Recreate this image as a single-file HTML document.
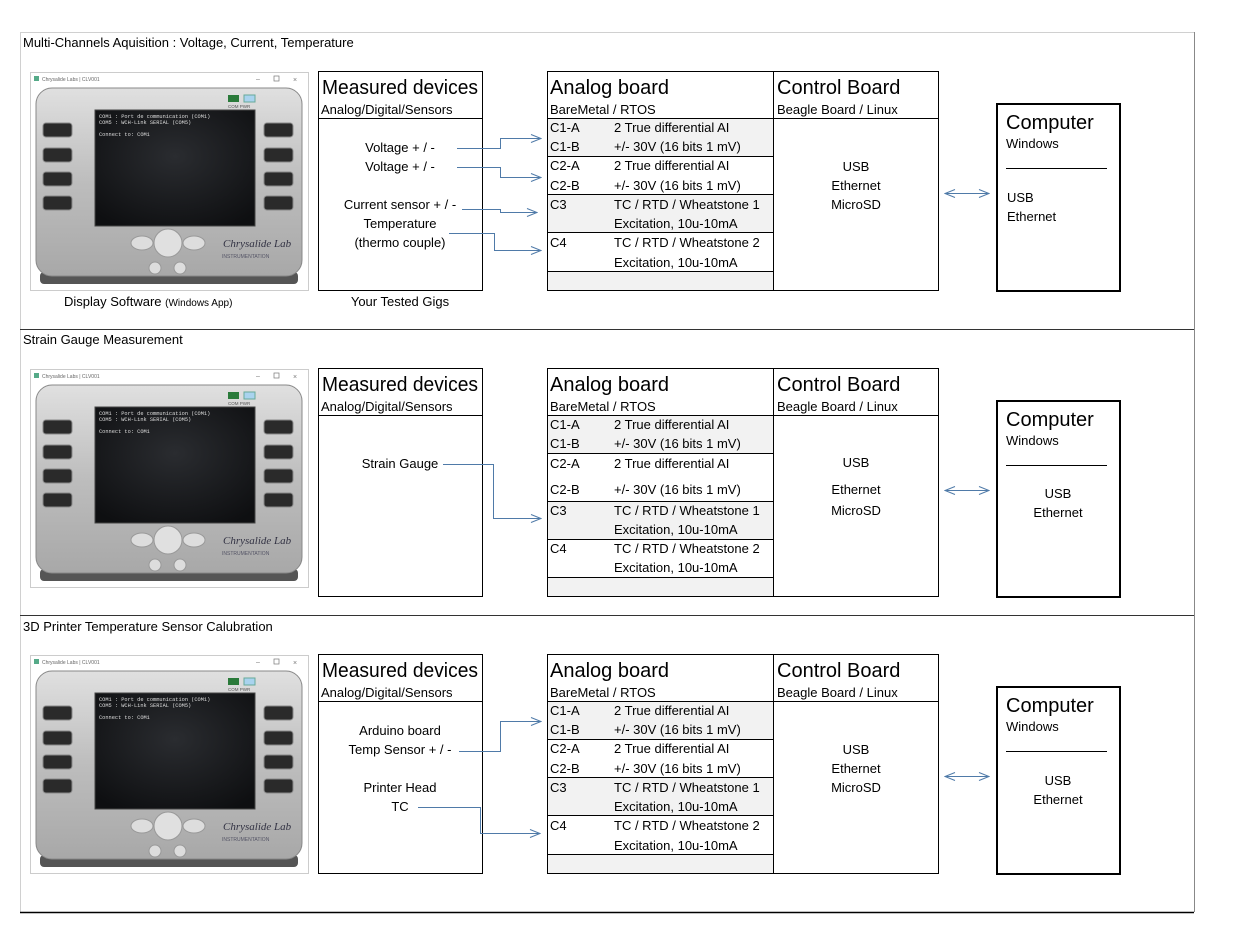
<!DOCTYPE html>
<html><head><meta charset="utf-8"><style>
html,body{margin:0;padding:0;background:#fff;}
svg{display:block;font-family:"Liberation Sans",sans-serif;}
</style></head><body>
<svg width="1248" height="944" viewBox="0 0 1248 944" xmlns="http://www.w3.org/2000/svg">
<defs>
<marker id="ah" markerWidth="12" markerHeight="10" refX="11" refY="5" orient="auto" markerUnits="userSpaceOnUse">
<path d="M1,1 L11,5 L1,9" fill="none" stroke="#4f7aa8" stroke-width="1"/></marker>
<marker id="ahs" markerWidth="12" markerHeight="10" refX="1" refY="5" orient="auto" markerUnits="userSpaceOnUse">
<path d="M11,1 L1,5 L11,9" fill="none" stroke="#4f7aa8" stroke-width="1"/></marker>
<linearGradient id="metal" x1="0" y1="0" x2="0" y2="1">
<stop offset="0" stop-color="#e0e0e0"/><stop offset="0.5" stop-color="#bdbdbd"/><stop offset="1" stop-color="#a8a8a8"/></linearGradient>
<radialGradient id="scr" cx="0.5" cy="0.4" r="0.7"><stop offset="0" stop-color="#2a2c30"/><stop offset="1" stop-color="#0e0f11"/></radialGradient>
<g id="dev">
<rect x="30.5" y="72.5" width="278" height="218" fill="#fff" stroke="#ccc"/>
<rect x="34" y="76" width="5" height="5" fill="#5a8"/>
<text x="42" y="81" font-size="5" fill="#666">Chrysalide Labs | CLV001</text>
<text x="256" y="81" font-size="7" fill="#777">–</text>
<rect x="274" y="76" width="5" height="5" fill="none" stroke="#777" stroke-width="0.7"/>
<text x="293" y="82" font-size="7" fill="#777">×</text>
<rect x="40" y="272" width="258" height="12" rx="4" fill="#555"/>
<rect x="36" y="88" width="266" height="188" rx="16" fill="url(#metal)" stroke="#888"/>
<rect x="95" y="110" width="160" height="116" fill="url(#scr)" stroke="#444"/>
<text font-family="Liberation Mono,monospace" font-size="5.3" fill="#ddd"><tspan x="99" y="118">COM1 : Port de communication (COM1)</tspan><tspan x="99" y="124">COM5 : WCH-Link SERIAL (COM5)</tspan><tspan x="99" y="136">Connect to: COM1</tspan></text>
<rect x="228" y="95" width="11" height="7" fill="#2a7a3a"/><rect x="244" y="95" width="11" height="7" fill="#a9d3ee" stroke="#6a9"/>
<text x="228" y="108" font-size="4.5" fill="#555">COM  PWR</text>
<g fill="#2a2a2a" stroke="#888">
<rect x="43" y="123" width="29" height="14" rx="3"/><rect x="43" y="148" width="29" height="14" rx="3"/>
<rect x="43" y="172" width="29" height="14" rx="3"/><rect x="43" y="196" width="29" height="14" rx="3"/>
<rect x="264" y="123" width="29" height="14" rx="3"/><rect x="264" y="148" width="29" height="14" rx="3"/>
<rect x="264" y="172" width="29" height="14" rx="3"/><rect x="264" y="196" width="29" height="14" rx="3"/>
</g>
<ellipse cx="142" cy="243" rx="11" ry="7" fill="#ddd" stroke="#999"/>
<ellipse cx="194" cy="243" rx="11" ry="7" fill="#ddd" stroke="#999"/>
<circle cx="168" cy="243" r="14" fill="#e0e0e0" stroke="#999"/>
<circle cx="155" cy="268" r="6" fill="#ddd" stroke="#999"/><circle cx="180" cy="268" r="6" fill="#ddd" stroke="#999"/>
<text x="223" y="247" font-family="Liberation Serif,serif" font-style="italic" font-size="11" fill="#334">Chrysalide Lab</text>
<text x="222" y="258" font-size="5" fill="#556">INSTRUMENTATION</text>
</g>
</defs>

<line x1="20.5" y1="32" x2="20.5" y2="912" stroke="#d0d0d0"/>
<line x1="20" y1="32.5" x2="1194" y2="32.5" stroke="#d0d0d0"/>
<line x1="1194.5" y1="32" x2="1194.5" y2="912" stroke="#888"/>
<line x1="20" y1="329.5" x2="1194" y2="329.5" stroke="#333"/>
<line x1="20" y1="615.5" x2="1194" y2="615.5" stroke="#333"/>
<line x1="20" y1="912.5" x2="1194" y2="912.5" stroke="#000" stroke-width="1.5"/>

<g font-size="13" fill="#000">
<text x="23" y="47">Multi-Channels Aquisition : Voltage, Current, Temperature</text>
<text x="23" y="344">Strain Gauge Measurement</text>
<text x="23" y="631">3D Printer Temperature Sensor Calubration</text>
</g>

<!-- Panel 1 -->
<g>
<use href="#dev"/>
<text x="64" y="306" font-size="13">Display Software <tspan font-size="10">(Windows App)</tspan></text>
<text x="400" y="306" font-size="13" text-anchor="middle">Your Tested Gigs</text>
<rect x="318.5" y="71.5" width="164" height="219" fill="none" stroke="#000"/>
<line x1="318" y1="118.5" x2="483" y2="118.5" stroke="#000"/>
<text x="322" y="94" font-size="20" textLength="156" lengthAdjust="spacingAndGlyphs">Measured devices</text>
<text x="321" y="114" font-size="13">Analog/Digital/Sensors</text>
<g font-size="13" text-anchor="middle">
<text x="400" y="152">Voltage + / -</text><text x="400" y="171">Voltage + / -</text>
<text x="400" y="209">Current sensor + / -</text><text x="400" y="228">Temperature</text><text x="400" y="247">(thermo couple)</text>
</g>
<rect x="547" y="118" width="226" height="38" fill="#f2f2f2"/>
<rect x="547" y="194" width="226" height="38" fill="#f2f2f2"/>
<rect x="547" y="271" width="226" height="19" fill="#f2f2f2"/>
<rect x="547.5" y="71.5" width="391" height="219" fill="none" stroke="#000"/>
<line x1="773.5" y1="71" x2="773.5" y2="291" stroke="#000"/>
<line x1="547" y1="118.5" x2="939" y2="118.5" stroke="#000"/>
<g stroke="#000"><line x1="547" y1="156.5" x2="773" y2="156.5"/><line x1="547" y1="194.5" x2="773" y2="194.5"/><line x1="547" y1="232.5" x2="773" y2="232.5"/><line x1="547" y1="271.5" x2="773" y2="271.5"/></g>
<text x="550" y="94" font-size="20">Analog board</text><text x="550" y="114" font-size="13">BareMetal / RTOS</text>
<text x="777" y="94" font-size="20">Control Board</text><text x="777" y="114" font-size="13">Beagle Board / Linux</text>
<g font-size="13">
<text x="550" y="132">C1-A</text><text x="614" y="132">2 True differential AI</text>
<text x="550" y="151">C1-B</text><text x="614" y="151">+/- 30V (16 bits 1 mV)</text>
<text x="550" y="170">C2-A</text><text x="614" y="170">2 True differential AI</text>
<text x="550" y="190">C2-B</text><text x="614" y="190">+/- 30V (16 bits 1 mV)</text>
<text x="550" y="209">C3</text><text x="614" y="209">TC / RTD / Wheatstone 1</text>
<text x="614" y="228">Excitation, 10u-10mA</text>
<text x="550" y="247">C4</text><text x="614" y="247">TC / RTD / Wheatstone 2</text>
<text x="614" y="267">Excitation, 10u-10mA</text>
<g text-anchor="middle"><text x="856" y="171">USB</text><text x="856" y="190">Ethernet</text><text x="856" y="209">MicroSD</text></g>
</g>
<rect x="997" y="104" width="123" height="187" fill="none" stroke="#000" stroke-width="2"/>
<line x1="1006" y1="168.5" x2="1107" y2="168.5" stroke="#000"/>
<text x="1006" y="129" font-size="20">Computer</text><text x="1006" y="148" font-size="13">Windows</text>
<text x="1007" y="202" font-size="13">USB</text><text x="1007" y="221" font-size="13">Ethernet</text>
<line x1="945" y1="193.5" x2="989" y2="193.5" stroke="#4f7aa8" marker-start="url(#ahs)" marker-end="url(#ah)"/>
<g fill="none" stroke="#4f7aa8">
<polyline points="457,148.5 500.5,148.5 500.5,138.5 541,138.5" marker-end="url(#ah)"/>
<polyline points="457,167.5 500.5,167.5 500.5,177.5 541,177.5" marker-end="url(#ah)"/>
<polyline points="462,209.5 500.5,209.5 500.5,212.5 537,212.5" marker-end="url(#ah)"/>
<polyline points="449,233.5 494.5,233.5 494.5,250.5 541,250.5" marker-end="url(#ah)"/>
</g>
</g>

<!-- Panel 2 -->
<g transform="translate(0,297)">
<use href="#dev"/>
<rect x="318.5" y="71.5" width="164" height="228" fill="none" stroke="#000"/>
<line x1="318" y1="118.5" x2="483" y2="118.5" stroke="#000"/>
<text x="322" y="94" font-size="20" textLength="156" lengthAdjust="spacingAndGlyphs">Measured devices</text>
<text x="321" y="114" font-size="13">Analog/Digital/Sensors</text>
<text x="400" y="171" font-size="13" text-anchor="middle">Strain Gauge</text>
<rect x="547" y="118" width="226" height="38" fill="#f2f2f2"/>
<rect x="547" y="204" width="226" height="38" fill="#f2f2f2"/>
<rect x="547" y="280" width="226" height="20" fill="#f2f2f2"/>
<rect x="547.5" y="71.5" width="391" height="228" fill="none" stroke="#000"/>
<line x1="773.5" y1="71" x2="773.5" y2="300" stroke="#000"/>
<line x1="547" y1="118.5" x2="939" y2="118.5" stroke="#000"/>
<g stroke="#000"><line x1="547" y1="156.5" x2="773" y2="156.5"/><line x1="547" y1="204.5" x2="773" y2="204.5"/><line x1="547" y1="242.5" x2="773" y2="242.5"/><line x1="547" y1="280.5" x2="773" y2="280.5"/></g>
<text x="550" y="94" font-size="20">Analog board</text><text x="550" y="114" font-size="13">BareMetal / RTOS</text>
<text x="777" y="94" font-size="20">Control Board</text><text x="777" y="114" font-size="13">Beagle Board / Linux</text>
<g font-size="13">
<text x="550" y="132">C1-A</text><text x="614" y="132">2 True differential AI</text>
<text x="550" y="151">C1-B</text><text x="614" y="151">+/- 30V (16 bits 1 mV)</text>
<text x="550" y="171">C2-A</text><text x="614" y="171">2 True differential AI</text>
<text x="550" y="197">C2-B</text><text x="614" y="197">+/- 30V (16 bits 1 mV)</text>
<text x="550" y="218">C3</text><text x="614" y="218">TC / RTD / Wheatstone 1</text>
<text x="614" y="237">Excitation, 10u-10mA</text>
<text x="550" y="256">C4</text><text x="614" y="256">TC / RTD / Wheatstone 2</text>
<text x="614" y="275">Excitation, 10u-10mA</text>
<g text-anchor="middle"><text x="856" y="170">USB</text><text x="856" y="197">Ethernet</text><text x="856" y="218">MicroSD</text></g>
</g>
<rect x="997" y="104" width="123" height="196" fill="none" stroke="#000" stroke-width="2"/>
<line x1="1006" y1="168.5" x2="1107" y2="168.5" stroke="#000"/>
<text x="1006" y="129" font-size="20">Computer</text><text x="1006" y="148" font-size="13">Windows</text>
<text x="1058" y="201" font-size="13" text-anchor="middle">USB</text><text x="1058" y="220" font-size="13" text-anchor="middle">Ethernet</text>
<line x1="945" y1="193.5" x2="989" y2="193.5" stroke="#4f7aa8" marker-start="url(#ahs)" marker-end="url(#ah)"/>
<polyline fill="none" stroke="#4f7aa8" points="443,167.5 493.5,167.5 493.5,221.5 541,221.5" marker-end="url(#ah)"/>
</g>

<!-- Panel 3 -->
<g transform="translate(0,583)">
<use href="#dev"/>
<rect x="318.5" y="71.5" width="164" height="219" fill="none" stroke="#000"/>
<line x1="318" y1="118.5" x2="483" y2="118.5" stroke="#000"/>
<text x="322" y="94" font-size="20" textLength="156" lengthAdjust="spacingAndGlyphs">Measured devices</text>
<text x="321" y="114" font-size="13">Analog/Digital/Sensors</text>
<g font-size="13" text-anchor="middle">
<text x="400" y="152">Arduino board</text><text x="400" y="171">Temp Sensor + / -</text>
<text x="400" y="209">Printer Head</text><text x="400" y="228">TC</text>
</g>
<rect x="547" y="118" width="226" height="38" fill="#f2f2f2"/>
<rect x="547" y="194" width="226" height="38" fill="#f2f2f2"/>
<rect x="547" y="271" width="226" height="19" fill="#f2f2f2"/>
<rect x="547.5" y="71.5" width="391" height="219" fill="none" stroke="#000"/>
<line x1="773.5" y1="71" x2="773.5" y2="291" stroke="#000"/>
<line x1="547" y1="118.5" x2="939" y2="118.5" stroke="#000"/>
<g stroke="#000"><line x1="547" y1="156.5" x2="773" y2="156.5"/><line x1="547" y1="194.5" x2="773" y2="194.5"/><line x1="547" y1="232.5" x2="773" y2="232.5"/><line x1="547" y1="271.5" x2="773" y2="271.5"/></g>
<text x="550" y="94" font-size="20">Analog board</text><text x="550" y="114" font-size="13">BareMetal / RTOS</text>
<text x="777" y="94" font-size="20">Control Board</text><text x="777" y="114" font-size="13">Beagle Board / Linux</text>
<g font-size="13">
<text x="550" y="132">C1-A</text><text x="614" y="132">2 True differential AI</text>
<text x="550" y="151">C1-B</text><text x="614" y="151">+/- 30V (16 bits 1 mV)</text>
<text x="550" y="170">C2-A</text><text x="614" y="170">2 True differential AI</text>
<text x="550" y="190">C2-B</text><text x="614" y="190">+/- 30V (16 bits 1 mV)</text>
<text x="550" y="209">C3</text><text x="614" y="209">TC / RTD / Wheatstone 1</text>
<text x="614" y="228">Excitation, 10u-10mA</text>
<text x="550" y="247">C4</text><text x="614" y="247">TC / RTD / Wheatstone 2</text>
<text x="614" y="267">Excitation, 10u-10mA</text>
<g text-anchor="middle"><text x="856" y="171">USB</text><text x="856" y="190">Ethernet</text><text x="856" y="209">MicroSD</text></g>
</g>
<rect x="997" y="104" width="123" height="187" fill="none" stroke="#000" stroke-width="2"/>
<line x1="1006" y1="168.5" x2="1107" y2="168.5" stroke="#000"/>
<text x="1006" y="129" font-size="20">Computer</text><text x="1006" y="148" font-size="13">Windows</text>
<text x="1058" y="202" font-size="13" text-anchor="middle">USB</text><text x="1058" y="221" font-size="13" text-anchor="middle">Ethernet</text>
<line x1="945" y1="193.5" x2="989" y2="193.5" stroke="#4f7aa8" marker-start="url(#ahs)" marker-end="url(#ah)"/>
<g fill="none" stroke="#4f7aa8">
<polyline points="459,168.5 500.5,168.5 500.5,138.5 541,138.5" marker-end="url(#ah)"/>
<polyline points="418,224.5 480.5,224.5 480.5,250.5 540,250.5" marker-end="url(#ah)"/>
</g>
</g>
</svg>
</body></html>
